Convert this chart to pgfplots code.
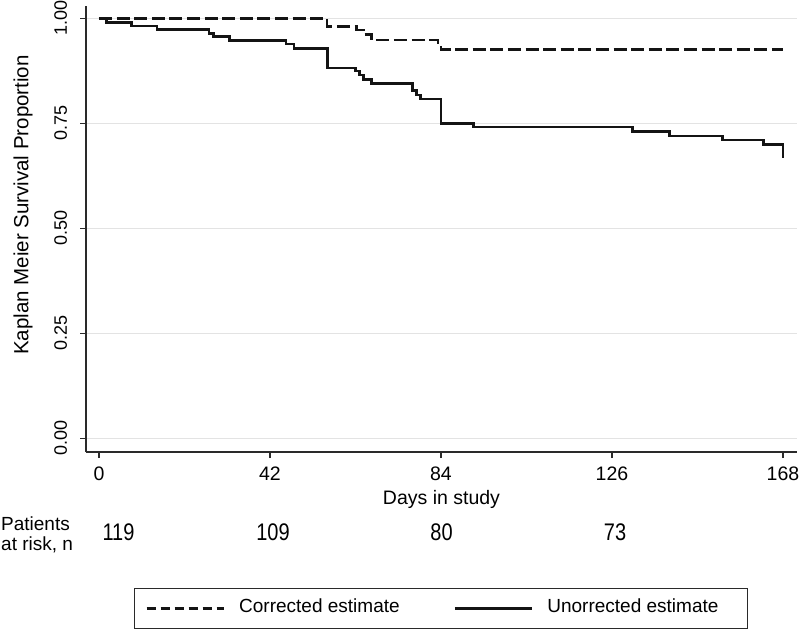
\documentclass[border=0pt]{standalone}
\usepackage{fontspec}
\setmainfont{Liberation Sans}
\usepackage{pgfplots}
\pgfplotsset{compat=1.18}
\definecolor{curve}{HTML}{141414}
\definecolor{axisc}{HTML}{2A2A2A}
\definecolor{gridc}{HTML}{E3E3E3}
\begin{document}
\begin{tikzpicture}
\useasboundingbox (-86bp,-179bp) rectangle (714bp,452bp);
\begin{axis}[
  at={(0,0)}, anchor=south west,
  scale only axis, width=711bp, height=446bp,
  xmin=-3.19, xmax=171.44, ymin=-0.0326, ymax=1.0293,
  axis x line*=bottom, axis y line*=left,
  axis line style={axisc, line width=1.4bp, -},
  xtick={0,42,84,126,168},
  ytick={0,0.25,0.5,0.75,1},
  yticklabels={0.00,0.25,0.50,0.75,1.00},
  tick align=outside, major tick length=6bp,
  tick style={axisc, line width=1.3bp},
  ymajorgrids, grid style={gridc, line width=1.6bp},
  /pgf/number format/assume math mode=true,
  xticklabel style={font=\fontsize{19.5bp}{22bp}\selectfont, anchor=north, inner sep=0pt},
  xticklabel shift=9bp,
  yticklabel style={font=\fontsize{18bp}{21bp}\selectfont, rotate=90, anchor=base, inner sep=0pt},
  yticklabel shift=13bp,
  xlabel={Days in study},
  xlabel style={font=\fontsize{19.5bp}{22bp}\selectfont, at={(axis description cs:0.5,0)}, anchor=base, yshift=-52bp, inner sep=0pt},
  ylabel={Kaplan Meier Survival Proportion},
  ylabel style={font=\fontsize{20.5bp}{24bp}\selectfont, at={(axis description cs:-0.0812,0.5538)}, anchor=base, inner sep=0pt},
  legend columns=2,
  legend image code/.code={\draw[#1] (0bp,0bp) -- (77bp,0bp);},
  legend style={at={(axis description cs:0.0675,-0.3049)}, anchor=north west,
    draw=axisc, line width=1bp, inner xsep=11bp, inner ysep=11bp,
    font=\fontsize{19bp}{22bp}\selectfont,
    nodes={inner sep=0pt, text height=13bp, text depth=5bp},
    cells={anchor=west},
    /tikz/every odd column/.append style={column sep=14.5bp},
    /tikz/every even column/.append style={column sep=54bp}},
  clip=false,
]
\addplot[const plot mark left, curve, line width=2.6bp, dash pattern=on 13bp off 4.6bp, forget plot] coordinates {
(0,1.0) (56.0,0.980) (63.3,0.972) (65.0,0.962) (67.0,0.948) (83.3,0.937) (84.0,0.926) (168.0,0.926)};
\addplot[const plot mark left, curve, line width=2.6bp, forget plot] coordinates {
(0,1.0) (1.9,0.9905) (8.0,0.982) (14.2,0.973) (27.0,0.964) (28.1,0.956) (32.0,0.947)
(45.9,0.939) (47.9,0.928) (56.1,0.882) (63.0,0.875) (64.0,0.865) (65.0,0.855) (67.0,0.845)
(77.0,0.828) (78.0,0.817) (79.0,0.808) (84.0,0.750) (92.0,0.741) (131.0,0.730) (140.1,0.720)
(153.1,0.710) (163.2,0.699) (168.0,0.667)};
\addlegendimage{curve, line width=2.2bp, dash pattern=on 9bp off 5bp}
\addlegendentry{Corrected estimate}
\addlegendimage{curve, line width=2.2bp}
\addlegendentry{\makebox[189bp][l]{Unorrected estimate}}
\end{axis}
\begin{scope}[every node/.style={inner sep=0pt}]
\node[anchor=base west, font=\fontsize{19bp}{22bp}\selectfont] at (-85bp,-78bp) {Patients};
\node[anchor=base west, font=\fontsize{19bp}{22bp}\selectfont] at (-85bp,-98bp) {at risk, n};
\node[anchor=base, yscale=1.2, font=\fontsize{20bp}{22bp}\selectfont] at (32.5bp,-88bp) {119};
\node[anchor=base, yscale=1.2, font=\fontsize{20bp}{22bp}\selectfont] at (187bp,-88bp) {109};
\node[anchor=base, yscale=1.2, font=\fontsize{20bp}{22bp}\selectfont] at (355.5bp,-88bp) {80};
\node[anchor=base, yscale=1.2, font=\fontsize{20bp}{22bp}\selectfont] at (529bp,-88bp) {73};
\end{scope}
\end{tikzpicture}
\end{document}
